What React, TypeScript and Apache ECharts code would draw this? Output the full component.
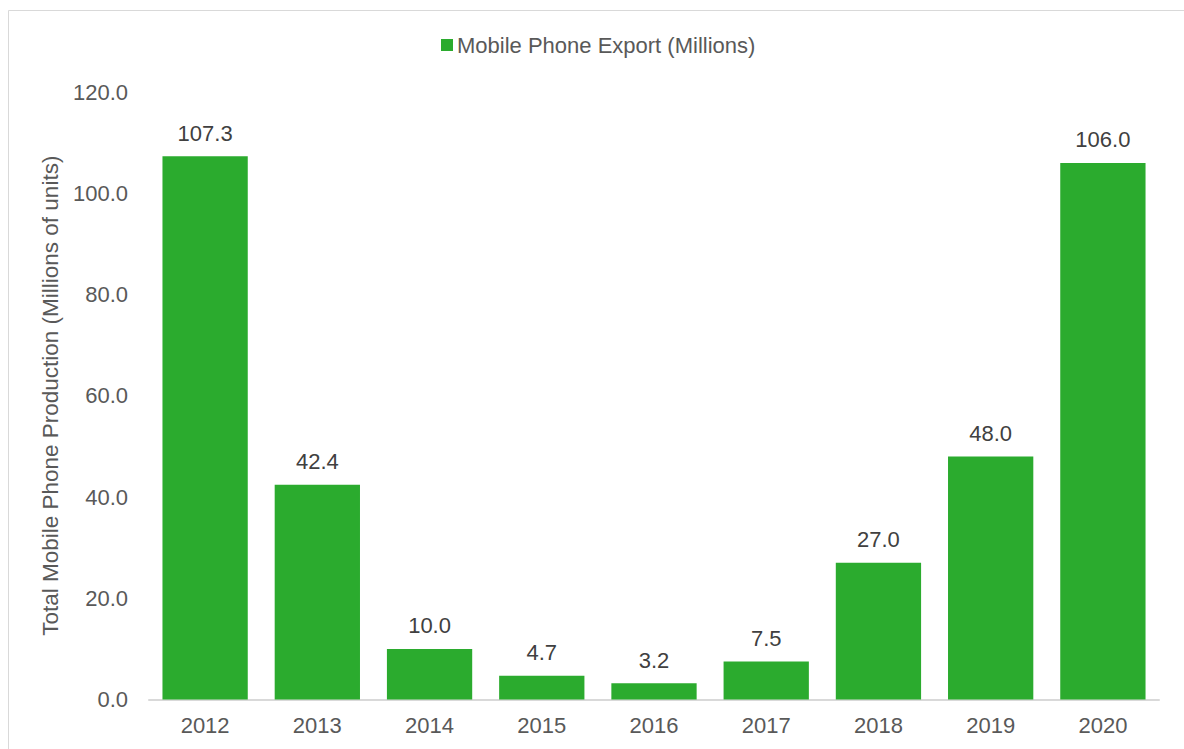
import React, { useEffect, useRef } from "react";
import * as echarts from "echarts";

const years = ["2012", "2013", "2014", "2015", "2016", "2017", "2018", "2019", "2020"];
const exportValues = [107.3, 42.4, 10.0, 4.7, 3.2, 7.5, 27.0, 48.0, 106.0];
const seriesName = "Mobile Phone Export (Millions)";
const yAxisTitle = "Total Mobile Phone Production (Millions of units)";

const FONT = "'Liberation Sans', Arial, sans-serif";
const TEXT = "#595959";

export default function App() {
  const ref = useRef<HTMLDivElement>(null);
  useEffect(() => {
    document.body.style.margin = "0";
    const chart = echarts.init(ref.current!, null, { renderer: "svg" });
    chart.setOption({
      animation: false,
      backgroundColor: "#ffffff",
      textStyle: { fontFamily: FONT },
      graphic: [
        {
          type: "rect",
          shape: { x: 8.5, y: 10.5, width: 1200, height: 800 },
          style: { fill: "none", stroke: "#d9d9d9", lineWidth: 1 },
          silent: true,
          z: -1,
        },
      ],
      legend: {
        top: 34,
        left: 441,
        padding: 0,
        itemWidth: 12,
        itemHeight: 12,
        itemGap: 10,
        icon: "rect",
        textStyle: { fontSize: 22, color: TEXT, fontFamily: FONT, padding: [0, 0, 0, -1] },
        data: [seriesName],
      },
      grid: { left: 149, right: 25, top: 92, bottom: 49.5, containLabel: false },
      xAxis: {
        type: "category",
        data: years,
        axisLine: { lineStyle: { color: "#d9d9d9", width: 2 } },
        axisTick: { show: false },
        axisLabel: { fontSize: 22, color: TEXT, margin: 15, fontFamily: FONT },
      },
      yAxis: {
        type: "value",
        min: 0,
        max: 120,
        interval: 20,
        name: yAxisTitle,
        nameLocation: "middle",
        nameGap: 84,
        nameRotate: 90,
        nameTextStyle: { fontSize: 22.5, color: TEXT, fontFamily: FONT },
        axisLine: { show: false },
        axisTick: { show: false },
        splitLine: { show: false },
        axisLabel: {
          fontSize: 22,
          color: TEXT,
          margin: 21,
          fontFamily: FONT,
          formatter: (v: number) => v.toFixed(1),
        },
      },
      series: [
        {
          name: seriesName,
          type: "bar",
          data: exportValues,
          barCategoryGap: "24%",
          itemStyle: { color: "#2BAB2E" },
          label: {
            show: true,
            position: "top",
            distance: 12,
            fontSize: 22,
            color: "#404040",
            fontFamily: FONT,
            formatter: (p: any) => Number(p.value).toFixed(1),
          },
        },
      ],
    });
    return () => chart.dispose();
  }, []);
  return <div ref={ref} style={{ width: 1184, height: 749 }} />;
}
